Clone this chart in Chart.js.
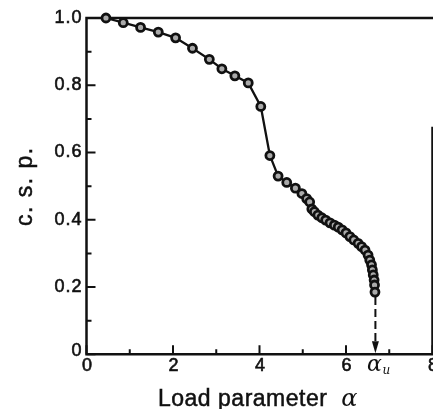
<!DOCTYPE html>
<html>
<head>
<meta charset="utf-8">
<script src="https://cdn.jsdelivr.net/npm/chart.js@4.4.1/dist/chart.umd.min.js"></script>
<style>
  html, body { margin: 0; padding: 0; background: #fff; }
  #wrap { width: 433px; height: 409px; position: relative; }
</style>
</head>
<body>
<div id="wrap"><canvas id="cspChart"></canvas></div>
<script>
// Data
const loadParam = [
  0.45, 0.85, 1.25, 1.66, 2.06, 2.45, 2.84, 3.13, 3.43, 3.74,
  4.03, 4.24, 4.43, 4.63, 4.83, 4.98, 5.09, 5.16, 5.21, 5.27,
  5.35, 5.44, 5.53, 5.63, 5.73, 5.82, 5.91, 6.00, 6.09, 6.18,
  6.28, 6.36, 6.44, 6.51, 6.55, 6.59, 6.61, 6.63, 6.65, 6.66, 6.67
];
const cspValues = [
  1.000, 0.986, 0.972, 0.958, 0.941, 0.910, 0.877, 0.849, 0.828, 0.807,
  0.737, 0.591, 0.530, 0.511, 0.494, 0.478, 0.463, 0.453, 0.432, 0.424,
  0.414, 0.406, 0.399, 0.391, 0.384, 0.378, 0.370, 0.361, 0.350, 0.340,
  0.330, 0.320, 0.310, 0.295, 0.280, 0.266, 0.251, 0.236, 0.221, 0.206, 0.185
];
const xTicks = [0, 2, 4, 6, 8];
const xTickLabels = ["0", "2", "4", "6", "8"];
const xMinorTicks = [1, 3, 5, 7];
const yTicks = [0, 0.2, 0.4, 0.6, 0.8, 1.0];
const yTickLabels = ["0", "0.2", "0.4", "0.6", "0.8", "1.0"];
const yMinorTicks = [0.1, 0.3, 0.5, 0.7, 0.9];
const ultimateLoad = 6.68; // alpha_u
const rightBorderTop = 0.673; // scanned frame only visible from here down

const INK = "#111";
const FONT = "Liberation Sans, Arial, Helvetica, sans-serif";

// fill + thin stroke so the text looks as heavy as the scan
function inkText(ctx, text, px, py, weight) {
  ctx.fillText(text, px, py);
  ctx.lineWidth = weight;
  ctx.strokeText(text, px, py);
}

// Draws the frame, inward ticks, labels and the alpha_u arrow
const framePlugin = {
  id: "frame",
  beforeDatasetsDraw(chart) {
    const { ctx, chartArea: a, scales: { x, y } } = chart;
    ctx.save();
    ctx.strokeStyle = INK;
    ctx.lineWidth = 2.5;
    ctx.lineCap = "square";

    // left + bottom axes, top border, partial right border
    ctx.beginPath();
    ctx.moveTo(a.left, a.top);
    ctx.lineTo(a.left, a.bottom);
    ctx.lineTo(a.right, a.bottom);
    ctx.moveTo(a.left, a.top);
    ctx.lineTo(a.right + 1, a.top);
    ctx.moveTo(a.right, y.getPixelForValue(rightBorderTop));
    ctx.lineTo(a.right, a.bottom);
    ctx.stroke();

    // ticks (pointing inward)
    ctx.lineWidth = 2;
    ctx.lineCap = "butt";
    ctx.beginPath();
    xTicks.forEach((v) => {
      const px = x.getPixelForValue(v);
      ctx.moveTo(px, a.bottom);
      ctx.lineTo(px, a.bottom - 9);
    });
    xMinorTicks.forEach((v) => {
      const px = x.getPixelForValue(v);
      ctx.moveTo(px, a.bottom);
      ctx.lineTo(px, a.bottom - 5);
    });
    yTicks.forEach((v) => {
      const py = y.getPixelForValue(v);
      ctx.moveTo(a.left, py);
      ctx.lineTo(a.left + 9, py);
    });
    yMinorTicks.forEach((v) => {
      const py = y.getPixelForValue(v);
      ctx.moveTo(a.left, py);
      ctx.lineTo(a.left + 5, py);
    });
    ctx.stroke();

    // dashed drop line to alpha_u with arrow head
    const ux = x.getPixelForValue(ultimateLoad);
    const lastY = y.getPixelForValue(cspValues[cspValues.length - 1]);
    ctx.setLineDash([8, 4]);
    ctx.lineWidth = 2;
    ctx.beginPath();
    ctx.moveTo(ux, lastY + 5);
    ctx.lineTo(ux, a.bottom - 12);
    ctx.stroke();
    ctx.setLineDash([]);
    ctx.fillStyle = INK;
    ctx.beginPath();
    ctx.moveTo(ux, a.bottom - 1);
    ctx.lineTo(ux - 3.5, a.bottom - 13);
    ctx.lineTo(ux + 3.5, a.bottom - 13);
    ctx.closePath();
    ctx.fill();
    ctx.restore();
  },
  afterDraw(chart) {
    const { ctx, chartArea: a, scales: { x, y } } = chart;
    ctx.save();
    ctx.fillStyle = INK;
    ctx.strokeStyle = INK;
    ctx.font = "18px " + FONT;
    ctx.letterSpacing = "1px";

    // x tick labels
    ctx.textAlign = "center";
    ctx.textBaseline = "middle";
    xTicks.forEach((v, i) => {
      inkText(ctx, xTickLabels[i], x.getPixelForValue(v) + 1, a.bottom + 11.5, 0.6);
    });

    // y tick labels
    ctx.textAlign = "right";
    yTicks.forEach((v, i) => {
      const py = y.getPixelForValue(v) - (v === 0 ? 3 : 0);
      inkText(ctx, yTickLabels[i], a.left - 4, py, 0.6);
    });

    // alpha_u label
    const ux = x.getPixelForValue(ultimateLoad);
    ctx.letterSpacing = "0px";
    ctx.textAlign = "center";
    ctx.textBaseline = "alphabetic";
    ctx.font = "italic 22px DejaVu Serif, serif";
    ctx.fillText("\u03b1", ux - 1, a.bottom + 17);
    ctx.font = "italic 12px DejaVu Serif, serif";
    ctx.fillText("u", ux + 11, a.bottom + 20);

    // axis titles
    ctx.font = "23px " + FONT;
    ctx.letterSpacing = "0.5px";
    ctx.textAlign = "left";
    const label = "Load parameter ";
    const w = ctx.measureText(label).width;
    const startX = 158;
    inkText(ctx, label, startX, a.bottom + 52, 0.5);
    ctx.font = "italic 24px DejaVu Serif, serif";
    ctx.fillText("\u03b1", startX + w + 7, a.bottom + 52);

    ctx.font = "23px " + FONT;
    ctx.letterSpacing = "1.5px";
    ctx.translate(32, (a.top + a.bottom) / 2);
    ctx.rotate(-Math.PI / 2);
    ctx.textAlign = "center";
    inkText(ctx, "c. s. p.", 0, 0, 0.5);
    ctx.restore();
  },
};

const ctx = document.getElementById("cspChart").getContext("2d");
const cspChart = new Chart(ctx, {
  type: "scatter",
  data: {
    datasets: [
      {
        data: loadParam.map((v, i) => ({ x: v, y: cspValues[i] })),
        showLine: true,
        borderColor: INK,
        borderWidth: 2.3,
        pointRadius: 4,
        pointBorderWidth: 2.8,
        pointBackgroundColor: "#aaa",
        pointBorderColor: INK,
        tension: 0,
        clip: false,
      },
    ],
  },
  options: {
    responsive: true,
    maintainAspectRatio: false,
    animation: false,
    layout: {
      autoPadding: false,
      padding: { left: 86.5, right: 0.5, top: 18, bottom: 54.7 },
    },
    plugins: {
      legend: { display: false },
      tooltip: { enabled: false },
    },
    scales: {
      x: { type: "linear", min: 0, max: 8, display: false },
      y: { type: "linear", min: 0, max: 1, display: false },
    },
  },
  plugins: [framePlugin],
});
</script>
</body>
</html>
